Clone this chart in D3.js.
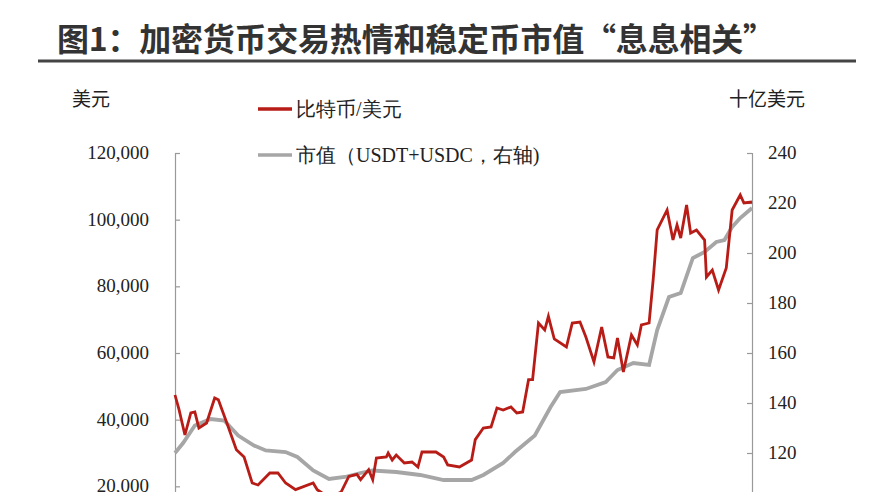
<!DOCTYPE html>
<html><head><meta charset="utf-8">
<script src="https://cdn.jsdelivr.net/npm/d3@7"></script>
<style>body{margin:0;overflow:hidden;background:#fff}</style>
</head><body>
<script>
// week index since start, BTC price in USD
var btcWeeks = [0,1.1,2.7,4.3,5.4,6.5,8.6,10.8,11.8,14.5,16.7,18.8,21,22.6,25.8,28,30.1,32.8,37.6,38.7,42,45.2,47.3,49.5,50.5,52.7,53.8,54.8,57.5,58,59.1,60.2,62.4,64.5,66.1,67.2,71,73.1,74.2,77.4,80.7,81.7,83.9,86,87.6,89.3,91.4,93,94.6,96.2,97.3,98.9,100.6,101.6,103.2,106.5,108.1,110.2,111.8,114,116.1,117.8,119.4,120.4,122,124.2,125.8,126.9,129,130.1,131.2,133.9,135.5,136.6,137.6,139.2,140.3,141.9,144.1,144.6,146.2,147.9,150,151.6,153.8,154.8,157];
var btc = [47400,43000,35400,42000,42300,37500,39000,46500,46000,37800,31000,28800,21000,20400,24000,24000,21000,19000,21000,19000,16500,18300,23000,23600,22000,25000,22000,28500,28800,30000,27900,29400,27000,27300,25800,30300,30300,28800,26400,25800,27900,34000,37500,37800,43500,42900,43800,42000,42300,52000,52000,69000,66900,71000,64200,61800,69000,69300,64800,57300,67800,58800,58500,64500,54300,65400,62400,68400,69000,81900,96900,102900,93900,98400,94500,104400,96000,96900,93900,82800,84900,78900,85500,102900,107400,105000,105300];
// stablecoin market cap (USDT+USDC), billion USD
var capWeeks = [0,2.2,5.4,9.7,13.4,17.2,21.5,24.7,30.1,33.3,37.6,41.9,46.2,50.5,53.8,60.2,66.7,73.1,80.7,83.9,89.3,92.5,97.9,102.2,104.8,111.8,117.2,120.4,124.7,129,131.2,134.4,137.6,140.9,144.1,147.3,149.5,151.6,153.8,157];
var cap = [120,124,131,133.6,133,127,123,121,120.4,118.4,113,109.6,110.4,112,113,112.4,111.2,109.2,109.2,111.2,116,120.4,127,138.4,144.4,145.6,148.4,153.2,156,155.2,169.2,182.4,184,198,200.4,204.4,205.2,210.4,214,218];
var leftTicks = [20000,40000,60000,80000,100000,120000];
var rightTicks = [120,140,160,180,200,220,240];

var svg = d3.select("body").append("svg").attr("width",870).attr("height",600);
var serif = "'Liberation Serif','Times New Roman',serif";
var cjk = "'Noto Sans CJK SC',sans-serif";

svg.append("text").attr("x",57).attr("y",51).attr("font-family",cjk).attr("font-weight","bold")
  .attr("font-size",32).attr("textLength",718).attr("fill","#333").text("图1：加密货币交易热情和稳定币市值“息息相关”");
svg.append("line").attr("x1",38).attr("x2",856).attr("y1",61).attr("y2",61).attr("stroke","#444").attr("stroke-width",3);

var x = d3.scaleLinear().domain([0,157]).range([175,752]);
var yL = d3.scaleLinear().domain([0,120000]).range([553,153]);
var yR = d3.scaleLinear().domain([80,240]).range([553,153]);

var gL = svg.append("g").attr("transform","translate(175,0)")
  .call(d3.axisRight(yL).tickValues(leftTicks).tickSize(5).tickFormat(""));
var gR = svg.append("g").attr("transform","translate(752,0)")
  .call(d3.axisLeft(yR).tickValues(rightTicks).tickSize(5).tickFormat(""));
[gL,gR].forEach(function(g){
  g.selectAll("path,line").attr("stroke","#999").attr("stroke-width",1.2);
});
svg.selectAll(".lt").data(leftTicks).enter().append("text")
  .attr("x",149).attr("y",function(d){return yL(d)+6;}).attr("text-anchor","end")
  .attr("font-family",serif).attr("font-size",19).attr("fill","#222").text(d3.format(","));
svg.selectAll(".rt").data(rightTicks).enter().append("text")
  .attr("x",768).attr("y",function(d){return yR(d)+6;})
  .attr("font-family",serif).attr("font-size",19).attr("fill","#222").text(function(d){return d;});

svg.append("text").attr("x",72).attr("y",106).attr("font-family",cjk).attr("font-size",19).attr("fill","#222").text("美元");
svg.append("text").attr("x",805).attr("y",106).attr("text-anchor","end").attr("font-family",cjk).attr("font-size",19).attr("fill","#222").text("十亿美元");

var lineCap = d3.line().x(function(d,i){return x(capWeeks[i]);}).y(function(d){return yR(d);});
var lineBtc = d3.line().x(function(d,i){return x(btcWeeks[i]);}).y(function(d){return yL(d);});
svg.append("path").datum(cap).attr("d",lineCap).attr("fill","none").attr("stroke","#a6a6a6").attr("stroke-width",3.8);
svg.append("path").datum(btc).attr("d",lineBtc).attr("fill","none").attr("stroke","#b81c16").attr("stroke-width",2.8);

var legend = [{t:"比特币/美元",c:"#b81c16",y:109},{t:"市值（USDT+USDC，右轴)",c:"#a6a6a6",y:155}];
legend.forEach(function(l){
  svg.append("line").attr("x1",258).attr("x2",292).attr("y1",l.y).attr("y2",l.y).attr("stroke",l.c).attr("stroke-width",3.5);
  svg.append("text").attr("x",296).attr("y",l.y+7).attr("font-family",serif).attr("font-size",20).attr("fill","#222").text(l.t);
});
</script>
</body></html>
